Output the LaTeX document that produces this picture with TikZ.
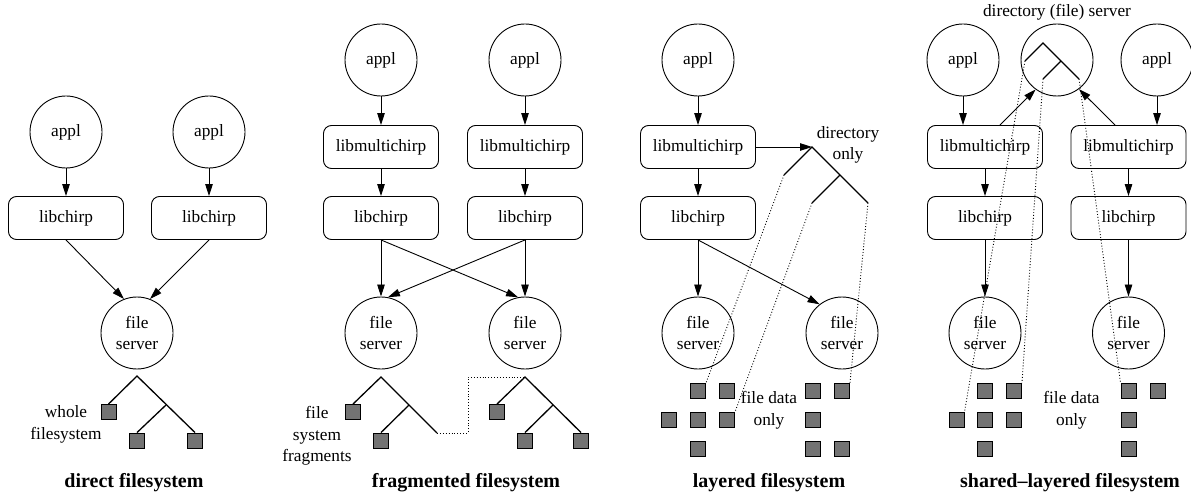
\documentclass[tikz,border=0pt]{standalone}
\usepackage{fontspec}
\setmainfont{Liberation Serif}
\usetikzlibrary{arrows.meta}
\definecolor{sqgray}{RGB}{115,115,115}
\newcommand\labelfnt{\fontsize{17.3}{21.5}\selectfont}
\newcommand\titlefnt{\fontsize{20}{24}\selectfont\bfseries}
\tikzset{
  circ/.style={draw, circle, minimum size=72pt, inner sep=0pt, align=center},
  libbox/.style={draw, rounded corners=8pt, minimum width=115pt, minimum height=43pt, inner sep=0pt},
  leaf/.style={draw, fill=sqgray, minimum size=15pt, inner sep=0pt},
  arr/.style={-{Triangle[length=12pt,width=7.5pt]}},
  tree/.style={line width=1.3pt},
  dots/.style={dotted, line width=0.9pt},
  lbl/.style={align=center, inner sep=0pt},
  ttl/.style={font=\titlefnt, inner sep=0pt}
}
\begin{document}
\begin{tikzpicture}[x=1pt, y=-1pt, line width=0.9pt, font=\labelfnt]
\useasboundingbox (0,0) rectangle (1191,494);

% ---------------- panel 1: direct filesystem
\node[circ] (ap1a) at (66,132) {appl};
\node[circ] (ap1b) at (209,132) {appl};
\node[libbox] (lc1a) at (66,218) {libchirp};
\node[libbox] (lc1b) at (209,218) {libchirp};
\node[circ] (fs1) at (137,333) {file\\server};
\draw[arr] (ap1a) -- (lc1a);
\draw[arr] (ap1b) -- (lc1b);
\draw[arr] (lc1a.south) -- (fs1.111);
\draw[arr] (lc1b.south) -- (fs1.69);
\coordinate (t1) at (137,376);
\coordinate (m1) at (166,405);
\node[leaf] (s1a) at (108.5,412) {};
\node[leaf] (s1b) at (137,440.5) {};
\node[leaf] (s1c) at (195,440.5) {};
\draw[tree] (s1a.north) -- (t1) -- (s1c.north);
\draw[tree] (m1) -- (s1b.north);
\node[lbl] (l1) at (66,424.5) {whole\\filesystem};
\node[ttl] (T1) at (134,483) {direct filesystem};

% ---------------- panel 2: fragmented filesystem
\node[circ] (ap2a) at (381,60) {appl};
\node[circ] (ap2b) at (525,60) {appl};
\node[libbox] (mc2a) at (381,147) {libmultichirp};
\node[libbox] (mc2b) at (525,147) {libmultichirp};
\node[libbox] (lc2a) at (381,218) {libchirp};
\node[libbox] (lc2b) at (525,218) {libchirp};
\node[circ] (fs2a) at (381,333) {file\\server};
\node[circ] (fs2b) at (525,333) {file\\server};
\draw[arr] (ap2a) -- (mc2a);
\draw[arr] (ap2b) -- (mc2b);
\draw[arr] (mc2a) -- (lc2a);
\draw[arr] (mc2b) -- (lc2b);
\draw[arr] (lc2a.south) -- (fs2a.north);
\draw[arr] (lc2a.south) -- (fs2b.101);
\draw[arr] (lc2b.south) -- (fs2a.79);
\draw[arr] (lc2b.south) -- (fs2b.north);
% left tree
\coordinate (t2a) at (381,377);
\coordinate (m2a) at (409,405);
\coordinate (e2a) at (437,433);
\node[leaf] (s2a) at (353,412) {};
\node[leaf] (s2b) at (381,440.5) {};
\draw[tree] (s2a.north) -- (t2a) -- (e2a);
\draw[tree] (m2a) -- (s2b.north);
% right tree
\coordinate (t2b) at (525,377);
\coordinate (m2b) at (553,405);
\node[leaf] (s2c) at (497,412) {};
\node[leaf] (s2d) at (525,440.5) {};
\node[leaf] (s2e) at (581,440.5) {};
\draw[tree] (s2c.north) -- (t2b) -- (s2e.north);
\draw[tree] (m2b) -- (s2d.north);
\draw[dots] (e2a) -- ++(31,0) |- (t2b);
\node[lbl] (l2) at (317,436) {file\\system\\fragments};
\node[ttl] (T2) at (466,483) {fragmented filesystem};

% ---------------- panel 3: layered filesystem
\node[circ] (ap3) at (698,60) {appl};
\node[libbox] (mc3) at (698,147) {libmultichirp};
\node[libbox] (lc3) at (698,218) {libchirp};
\node[circ] (fs3a) at (698,333) {file\\server};
\node[circ] (fs3b) at (842,333) {file\\server};
\draw[arr] (ap3) -- (mc3);
\draw[arr] (mc3) -- (lc3);
\draw[arr] (lc3.south) -- (fs3a.north);
\draw[arr] (lc3.south) -- (fs3b.128);
\coordinate (t3) at (812,147);
\coordinate (e3a) at (784,175);
\coordinate (m3) at (840,175);
\coordinate (e3b) at (812,203);
\coordinate (e3c) at (868,203);
\draw[arr] (mc3.east) -- (t3);
\draw[tree] (e3a) -- (t3) -- (e3c);
\draw[tree] (m3) -- (e3b);
\node[lbl] (l3a) at (848,145) {directory\\only};
\foreach \n/\x/\y in {q1/698/391, q2/727/391, q3/669/420, q4/698/420, q5/727/420, q6/698/448.5,
                      q7/813/391, q8/842/391, q9/813/420, q10/813/448.5, q11/842/448.5}
  \node[leaf] (p3\n) at (\x,\y) {};
\draw[dots] (e3a) -- (p3q1.north east);
\draw[dots] (e3b) -- (p3q5.north east);
\draw[dots] (e3c) -- (p3q8.north east);
\node[lbl] (l3b) at (769,410.5) {file data\\only};
\node[ttl] (T3) at (769,483) {layered filesystem};

% ---------------- panel 4: shared-layered filesystem
\node[circ] (dir) at (1057,60) {};
\node[lbl, anchor=base] (l4a) at (1057,17) {directory (file) server};
\coordinate (t4) at (1043,43);
\coordinate (e4a) at (1025,61);
\coordinate (m4) at (1061,61);
\coordinate (e4b) at (1043,79);
\coordinate (e4c) at (1079,79);
\draw[tree] (e4a) -- (t4) -- (e4c);
\draw[tree] (m4) -- (e4b);
\node[circ] (ap4a) at (963,60) {appl};
\node[circ] (ap4b) at (1157,60) {appl};
\node[libbox] (mc4a) at (985,147) {libmultichirp};
\node[libbox] (mc4b) at (1128.5,147) {libmultichirp};
\node[libbox] (lc4a) at (985,218) {libchirp};
\node[libbox] (lc4b) at (1128.5,218) {libchirp};
\node[circ] (fs4a) at (985,333) {file\\server};
\node[circ] (fs4b) at (1128.5,333) {file\\server};
\draw[arr] (ap4a.south) -- (ap4a.south |- mc4a.north);
\draw[arr] (ap4b.south) -- (ap4b.south |- mc4b.north);
\draw[arr] ([xshift=15pt]mc4a.north) -- (dir.234);
\draw[arr] ([xshift=-13.5pt]mc4b.north) -- (dir.307);
\draw[arr] (mc4a) -- (lc4a);
\draw[arr] (mc4b) -- (lc4b);
\draw[arr] (lc4a) -- (fs4a);
\draw[arr] (lc4b) -- (fs4b);
\foreach \n/\x/\y in {q1/985/391, q2/1014/391, q3/956.5/420, q4/985/420, q5/1014/420, q6/985/448.5,
                      q7/1128.5/391, q8/1157.5/391, q9/1128.5/420, q10/1128.5/448.5}
  \node[leaf] (p4\n) at (\x,\y) {};
\draw[dots] (e4a) -- (p4q3.north east);
\draw[dots] (e4b) -- (p4q2.north east);
\draw[dots] (e4c) -- (p4q7.north west);
\node[lbl] (l4b) at (1071.5,410.5) {file data\\only};
\node[ttl] (T4) at (1070,483) {shared–layered filesystem};
\end{tikzpicture}
\end{document}
